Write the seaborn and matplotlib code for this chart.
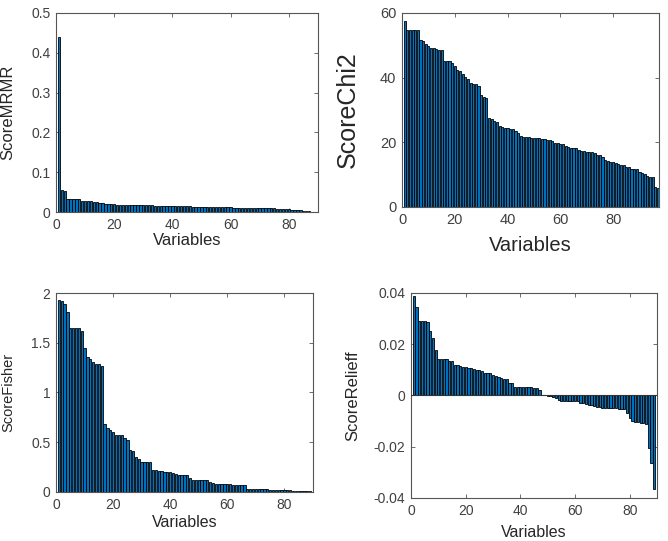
import numpy as np
import pandas as pd
import matplotlib
matplotlib.use("Agg")
import matplotlib.pyplot as plt
from matplotlib.ticker import MultipleLocator, FuncFormatter
import seaborn as sns

# Feature ranking scores, sorted from most to least important
score_mrmr = [
    0.440, 0.055, 0.052,
    0.034, 0.033, 0.033, 0.033, 0.032,
    0.028, 0.028, 0.027, 0.027, 0.026, 0.026,
    0.022, 0.022, 0.021, 0.021, 0.021, 0.020,
    0.019, 0.019, 0.018, 0.018, 0.018, 0.018, 0.018, 0.018, 0.017, 0.017,
    0.017, 0.017, 0.017, 0.016, 0.016, 0.016, 0.016, 0.015, 0.015, 0.015,
    0.015, 0.014, 0.014, 0.014, 0.014, 0.014, 0.013, 0.013, 0.013, 0.013,
    0.013, 0.013, 0.013, 0.012, 0.012, 0.012, 0.012, 0.012, 0.012, 0.012,
    0.011, 0.011, 0.011, 0.010, 0.010, 0.010, 0.010, 0.010, 0.010, 0.009,
    0.009, 0.009, 0.009, 0.009, 0.009, 0.008, 0.008, 0.008, 0.008, 0.008,
    0.006, 0.005, 0.005, 0.004, 0.003, 0.003, 0.002,
]

score_chi2 = [
    57.6, 54.8, 54.8, 54.8, 54.8, 54.8,
    51.5, 51.3, 50.4, 49.9,
    49.2, 49.1, 49.0, 48.6, 48.5,
    45.2, 45.1, 45.0, 44.4, 43.7,
    42.5, 42.1, 41.1, 40.2, 39.5,
    38.3, 38.1, 38.0, 37.4, 34.7,
    34.0, 33.8, 27.4, 27.1, 26.5, 26.3,
    24.9, 24.6, 24.4, 24.3, 24.2, 24.0,
    23.5, 22.8, 22.0, 21.7, 21.6, 21.5,
    21.4, 21.3, 21.3, 21.2, 21.1, 21.0,
    20.8, 20.6, 20.3, 19.8, 19.7, 19.6, 19.4,
    18.8, 18.6, 18.3, 18.2, 18.1,
    17.7, 17.3, 17.2, 17.1, 17.1, 17.0,
    16.6, 16.2, 16.0, 15.4,
    14.5, 14.3, 14.0, 13.8,
    13.6, 13.4, 13.1, 13.0,
    12.5, 12.4, 11.8, 11.7, 11.7,
    10.8, 10.6, 10.3, 9.6, 9.4, 9.3,
    6.3, 5.9,
]

score_fisher = [
    1.925, 1.92, 1.89, 1.81, 1.65, 1.65, 1.65, 1.645, 1.62,
    1.45, 1.36, 1.34, 1.31, 1.29, 1.285, 1.27,
    0.68, 0.64, 0.62, 0.60,
    0.575, 0.57, 0.57, 0.54, 0.52,
    0.42, 0.41, 0.35, 0.33,
    0.30, 0.30, 0.30, 0.30,
    0.225, 0.22, 0.215, 0.21,
    0.205, 0.20, 0.20, 0.19, 0.185,
    0.175, 0.17, 0.17, 0.17, 0.14,
    0.125, 0.125, 0.12, 0.12, 0.12, 0.12,
    0.10, 0.09,
    0.085, 0.085, 0.083, 0.08, 0.08,
    0.078, 0.075, 0.073, 0.07, 0.07, 0.068,
    0.032, 0.031, 0.03, 0.03, 0.029, 0.028, 0.027, 0.025,
    0.019, 0.018, 0.017, 0.017, 0.016, 0.016, 0.015, 0.015, 0.014,
    0.008, 0.007, 0.007, 0.006, 0.006, 0.005,
]

score_relieff = [
    0.0390, 0.0347, 0.0292, 0.0291, 0.0290, 0.0285, 0.0253, 0.0226, 0.0178,
    0.0143, 0.0143, 0.0143, 0.0142, 0.0136, 0.0134,
    0.0120, 0.0118, 0.0114, 0.0112, 0.0110,
    0.0107, 0.0106, 0.0104, 0.0101, 0.0099, 0.0094,
    0.0089, 0.0088, 0.0087, 0.0079, 0.0077, 0.0072, 0.0070,
    0.0065, 0.0064, 0.0049, 0.0048,
    0.0034, 0.0034, 0.0034, 0.0033, 0.0033, 0.0033, 0.0032,
    0.0031, 0.0029, 0.0023,
    0.0002, 0.0001, -0.0001, -0.0003, -0.0005, -0.0009, -0.0016,
    -0.0020, -0.0020, -0.0021, -0.0021, -0.0021, -0.0022, -0.0022,
    -0.0030, -0.0031, -0.0034, -0.0036, -0.0037,
    -0.0042, -0.0044, -0.0045, -0.0047,
    -0.0049, -0.0049, -0.0050, -0.0050, -0.0050, -0.0051, -0.0051, -0.0053,
    -0.0069, -0.0088,
    -0.0101, -0.0103, -0.0105, -0.0106, -0.0107, -0.0112,
    -0.0205, -0.0265, -0.0365,
]

x_label = "Variables"
bar_color = "#0072BD"
text_color = "#262626"
tick_label_color = "#404040"

sns.set_style("ticks")
plt.rcParams["font.family"] = ["Liberation Sans", "DejaVu Sans"]
plt.rcParams["axes.edgecolor"] = "#555555"
plt.rcParams["axes.linewidth"] = 0.8
plt.rcParams["xtick.color"] = "#555555"
plt.rcParams["ytick.color"] = "#555555"
plt.rcParams["xtick.labelcolor"] = tick_label_color
plt.rcParams["ytick.labelcolor"] = tick_label_color

fig = plt.figure(figsize=(6.68, 5.41), dpi=100)

panels = [
    # (scores, ylabel, axes rect, xlim, ylim, ytick step,
    #  tick size, xlabel size, ylabel size, xlabel y, ylabel x)
    (score_mrmr, "ScoreMRMR", [0.0838, 0.608, 0.392, 0.368], (0, 90), (0, 0.5), 0.1,
     10, 12, 12, -0.105, -0.155),
    (score_chi2, "ScoreChi2", [0.6018, 0.6174, 0.3847, 0.3586], (0, 97.4), (0, 60), 20,
     10.5, 14.5, 18, -0.15, -0.165),
    (score_fisher, "ScoreFisher", [0.0838, 0.0906, 0.3847, 0.3678], (0, 90), (0, 2), 0.5,
     10, 11.5, 10.5, -0.115, -0.16),
    (score_relieff, "ScoreRelieff", [0.6153, 0.0795, 0.3683, 0.379], (0, 90), (-0.04, 0.04), 0.02,
     10, 11.5, 12, -0.13, -0.205),
]

for (scores, ylab, rect, xlim, ylim, ystep, tfs, xfs, yfs, xly, ylx) in panels:
    ax = fig.add_axes(rect)
    df = pd.DataFrame({"var": np.arange(1, len(scores) + 1), "score": scores})
    sns.barplot(data=df, x="var", y="score", native_scale=True, color=bar_color,
                saturation=1, edgecolor="black", linewidth=0.6, width=0.8,
                errorbar=None, ax=ax)
    if ylim[0] < 0:
        ax.axhline(0, color="#333333", lw=0.8, zorder=3)
    ax.set_xlim(*xlim)
    ax.set_ylim(*ylim)
    ax.xaxis.set_major_locator(MultipleLocator(20))
    ax.yaxis.set_major_locator(MultipleLocator(ystep))
    ax.yaxis.set_major_formatter(FuncFormatter(lambda v, p: f"{v:g}"))
    ax.xaxis.set_major_formatter(FuncFormatter(lambda v, p: f"{v:g}"))
    ax.tick_params(direction="in", top=True, right=True, length=3, width=0.6,
                   labelsize=tfs, pad=4)
    for s in ax.spines.values():
        s.set_visible(True)
    ax.set_xlabel(x_label, fontsize=xfs, color=text_color)
    ax.set_ylabel(ylab, fontsize=yfs, color=text_color)
    ax.xaxis.set_label_coords(0.5, xly)
    ax.yaxis.set_label_coords(ylx, 0.5)
    ax.xaxis.label.set_va("top")
    ax.yaxis.label.set_va("bottom")

fig.savefig("out.png", dpi=100)
